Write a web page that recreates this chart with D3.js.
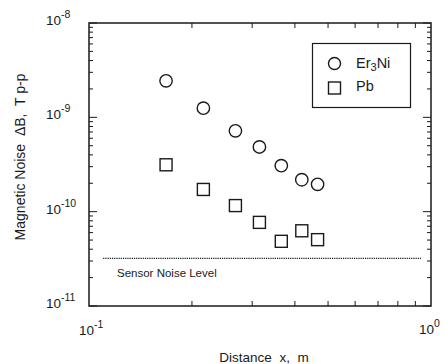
<!DOCTYPE html>
<html>
<head>
<meta charset="utf-8">
<script src="https://cdn.jsdelivr.net/npm/d3@7"></script>
<style>
  html, body { margin: 0; padding: 0; background: #fff; }
  svg { display: block; font-family: "Liberation Sans", Arial, Helvetica, sans-serif; }
</style>
</head>
<body>
<svg id="chart" width="445" height="364"></svg>
<script>
// Magnetic noise vs. distance for two regenerator materials
const distanceEr3Ni = [0.168, 0.216, 0.268, 0.315, 0.365, 0.419, 0.466];
const noiseEr3Ni    = [2.44e-9, 1.25e-9, 7.2e-10, 4.85e-10, 3.07e-10, 2.18e-10, 1.95e-10];
const distancePb    = [0.168, 0.216, 0.268, 0.315, 0.365, 0.419, 0.466];
const noisePb       = [3.14e-10, 1.72e-10, 1.16e-10, 7.7e-11, 4.85e-11, 6.27e-11, 5.05e-11];
const sensorNoise   = 3.2e-11;
const sensorRange   = [0.11, 0.935];
const xTickExps     = [-1, 0];
const yTickExps     = [-8, -9, -10, -11];
const seriesNames   = ["Er3Ni", "Pb"];

const svg = d3.select("#chart");
const ink = "#1a1a1a";
const plot = { left: 89, right: 431, top: 23, bottom: 306 };

const x = d3.scaleLog().domain([0.1, 1]).range([plot.left, plot.right]);
const y = d3.scaleLog().domain([1e-11, 1e-8]).range([plot.bottom, plot.top]);

// frame
svg.append("rect")
  .attr("x", plot.left).attr("y", plot.top)
  .attr("width", plot.right - plot.left).attr("height", plot.bottom - plot.top)
  .attr("fill", "none").attr("stroke", ink).attr("stroke-width", 1.5);

// inward ticks on all four sides
const ticks = svg.append("g").attr("stroke", ink).attr("stroke-width", 1);
const xMinor = d3.range(2, 10).map(k => k / 10);
xMinor.forEach(v => {
  ticks.append("line").attr("x1", x(v)).attr("x2", x(v)).attr("y1", plot.bottom).attr("y2", plot.bottom - 5);
  ticks.append("line").attr("x1", x(v)).attr("x2", x(v)).attr("y1", plot.top).attr("y2", plot.top + 5);
});
const yMajor = yTickExps.map(e => Math.pow(10, e));
const yMinor = [];
[-11, -10, -9].forEach(e => d3.range(2, 10).forEach(k => yMinor.push(k * Math.pow(10, e))));
yMajor.forEach(v => {
  ticks.append("line").attr("x1", plot.left).attr("x2", plot.left + 8).attr("y1", y(v)).attr("y2", y(v));
  ticks.append("line").attr("x1", plot.right).attr("x2", plot.right - 8).attr("y1", y(v)).attr("y2", y(v));
});
yMinor.forEach(v => {
  ticks.append("line").attr("x1", plot.left).attr("x2", plot.left + 4).attr("y1", y(v)).attr("y2", y(v));
  ticks.append("line").attr("x1", plot.right).attr("x2", plot.right - 4).attr("y1", y(v)).attr("y2", y(v));
});

// power-of-ten tick labels
function powLabel(g, px, py, exp) {
  const t = g.append("text").attr("x", px).attr("y", py).attr("fill", ink)
    .attr("font-size", 13.5);
  t.append("tspan").text("10");
  t.append("tspan").attr("font-size", 10.5).attr("dy", -7).text(exp);
}
const labels = svg.append("g");
yTickExps.forEach(e => powLabel(labels, 46, y(Math.pow(10, e)) + 2, e));
powLabel(labels, 79, 335, xTickExps[0]);
powLabel(labels, 419, 334, xTickExps[1]);

// axis titles
svg.append("text")
  .attr("x", 264).attr("y", 361.5)
  .attr("text-anchor", "middle").attr("font-size", 13.5).attr("fill", ink)
  .attr("xml:space", "preserve")
  .text("Distance  x,  m");
svg.append("text")
  .attr("transform", "translate(25,157) rotate(-90)")
  .attr("text-anchor", "middle").attr("font-size", 14).attr("fill", ink)
  .attr("xml:space", "preserve")
  .text("Magnetic Noise  \u0394B,  T p-p");

// sensor noise floor
svg.append("line")
  .attr("x1", x(sensorRange[0])).attr("x2", x(sensorRange[1]))
  .attr("y1", y(sensorNoise)).attr("y2", y(sensorNoise))
  .attr("stroke", ink).attr("stroke-width", 1.4).attr("stroke-dasharray", "1.2,1");
svg.append("text")
  .attr("x", 117).attr("y", 276.5)
  .attr("font-size", 11.5).attr("fill", ink)
  .text("Sensor Noise Level");

// data markers
const er = distanceEr3Ni.map((d, i) => ({ d, v: noiseEr3Ni[i] }));
const pb = distancePb.map((d, i) => ({ d, v: noisePb[i] }));
svg.append("g").selectAll("circle").data(er).join("circle")
  .attr("cx", p => x(p.d)).attr("cy", p => y(p.v)).attr("r", 6.2)
  .attr("fill", "none").attr("stroke", ink).attr("stroke-width", 1.4);
const s = 12;
svg.append("g").selectAll("rect").data(pb).join("rect")
  .attr("x", p => x(p.d) - s / 2).attr("y", p => y(p.v) - s / 2)
  .attr("width", s).attr("height", s)
  .attr("fill", "none").attr("stroke", ink).attr("stroke-width", 1.4);

// legend
const lg = svg.append("g");
lg.append("rect").attr("x", 312.5).attr("y", 43.5).attr("width", 98).attr("height", 64)
  .attr("fill", "#fff").attr("stroke", ink).attr("stroke-width", 1.2);
lg.append("circle").attr("cx", 334.5).attr("cy", 63.5).attr("r", 6)
  .attr("fill", "none").attr("stroke", ink).attr("stroke-width", 1.4);
const t1 = lg.append("text").attr("x", 356).attr("y", 67.5).attr("font-size", 14.5).attr("fill", ink);
t1.append("tspan").text(seriesNames[0].slice(0, 2));
t1.append("tspan").attr("font-size", 11).attr("dy", 3).text(seriesNames[0].slice(2, 3));
t1.append("tspan").attr("dy", -3).text(seriesNames[0].slice(3));
lg.append("rect").attr("x", 328.5).attr("y", 82).attr("width", 12).attr("height", 12)
  .attr("fill", "none").attr("stroke", ink).attr("stroke-width", 1.4);
lg.append("text").attr("x", 356).attr("y", 91).attr("font-size", 14.5).attr("fill", ink)
  .text(seriesNames[1]);
</script>
</body>
</html>
